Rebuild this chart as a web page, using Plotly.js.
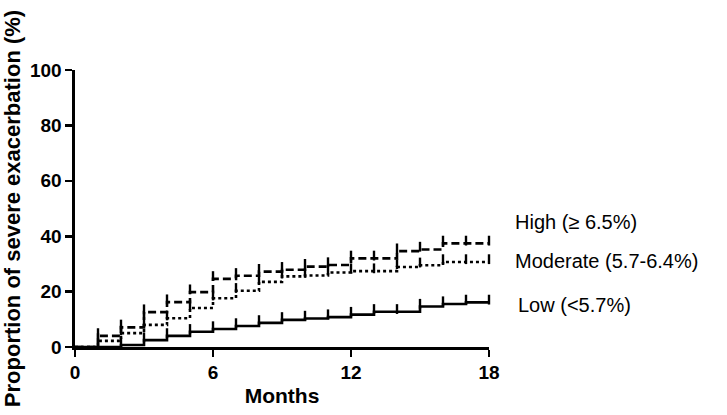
<!DOCTYPE html>
<html>
<head>
<meta charset="utf-8">
<script src="https://cdn.plot.ly/plotly-3.0.1.min.js"></script>
<style>html,body{margin:0;padding:0;background:#fff;}#chart{width:727px;height:415px;}</style>
</head>
<body>
<div id="chart"></div>
<script>
// Segment start months (value holds from month m to m+1), last value extended to 18
const months = [0,1,2,3,4,5,6,7,8,9,10,11,12,13,14,15,16,17,18];
const highVals     = [0, 4.0, 7.1, 12.6, 16.2, 19.8, 24.6, 25.7, 27.2, 27.9, 29.0, 29.6, 32.0, 32.0, 34.6, 35.2, 37.4, 37.4];
const moderateVals = [0, 2.2, 5.0, 8.0, 10.4, 14.1, 17.6, 20.3, 23.5, 25.5, 25.8, 26.9, 27.4, 27.4, 28.9, 29.5, 30.7, 30.7];
const lowVals      = [0, 0, 0.7, 2.5, 4.0, 5.5, 6.5, 7.6, 8.7, 9.8, 10.3, 10.8, 11.7, 12.7, 12.7, 14.6, 15.5, 16.1];
const groupLabels = ["High (\u2265 6.5%)", "Moderate (5.7-6.4%)", "Low (<5.7%)"];
const xTicks = [0, 6, 12, 18];
const yTicks = [0, 20, 40, 60, 80, 100];

const FONT = "Arial, 'Liberation Sans', sans-serif";

function stepTrace(vals, dash) {
  const y = vals.concat([vals[vals.length - 1]]);
  return {
    x: months, y: y, type: 'scatter', mode: 'lines',
    line: {shape: 'hv', color: '#000', width: 2.6, dash: dash},
    hoverinfo: 'skip', showlegend: false
  };
}
function censorTrace(vals, startMonth) {
  const y = vals.concat([vals[vals.length - 1]]);
  const xs = [], ys = [];
  for (let i = startMonth; i < months.length; i++) { xs.push(months[i]); ys.push(y[i] + 1.0); }
  return {
    x: xs, y: ys, type: 'scatter', mode: 'markers', cliponaxis: false,
    marker: {symbol: 'line-ns', size: 7, line: {color: '#000', width: 2.4}},
    hoverinfo: 'skip', showlegend: false
  };
}

const data = [
  stepTrace(lowVals, 'solid'),
  stepTrace(moderateVals, '3px,3px'),
  stepTrace(highVals, '8px,4px'),
  censorTrace(lowVals, 2),
  censorTrace(moderateVals, 1),
  censorTrace(highVals, 1)
];

// label positions in paper coordinates (outside the plot area, right side)
const labelY = [0.452, 0.311, 0.152];
const labelX = [1.058, 1.058, 1.066];
const annotations = groupLabels.map((t, i) => ({
  text: t, x: labelX[i], y: labelY[i], xref: 'paper', yref: 'paper',
  xanchor: 'left', yanchor: 'middle', showarrow: false,
  font: {family: FONT, size: 20, color: '#000'}
}));

const layout = {
  width: 727, height: 415,
  margin: {l: 75, r: 238, t: 70, b: 68},
  paper_bgcolor: '#fff', plot_bgcolor: '#fff',
  showlegend: false,
  xaxis: {
    range: [0, 18], tickvals: xTicks, ticktext: xTicks.map(String),
    showgrid: false, zeroline: false, showline: true, linecolor: '#000', linewidth: 2.6,
    ticks: 'outside', ticklen: 7, tickwidth: 2.6, tickcolor: '#000',
    tickfont: {family: FONT, size: 19, color: '#000', weight: 'bold'},
    title: {text: '<b>Months</b>', font: {family: FONT, size: 21, color: '#000'}, standoff: 6}
  },
  yaxis: {
    range: [0, 100], tickvals: yTicks, ticktext: yTicks.map(String),
    showgrid: false, zeroline: false, showline: true, linecolor: '#000', linewidth: 2.6,
    ticks: 'outside', ticklen: 7, tickwidth: 2.6, tickcolor: '#000',
    tickfont: {family: FONT, size: 19, color: '#000', weight: 'bold'},
    title: {text: '<b>Proportion of severe exacerbation (%)</b>', font: {family: FONT, size: 22, color: '#000'}, standoff: 8}
  },
  annotations: annotations
};

Plotly.newPlot('chart', data, layout, {displayModeBar: false, staticPlot: true});
</script>
</body>
</html>
